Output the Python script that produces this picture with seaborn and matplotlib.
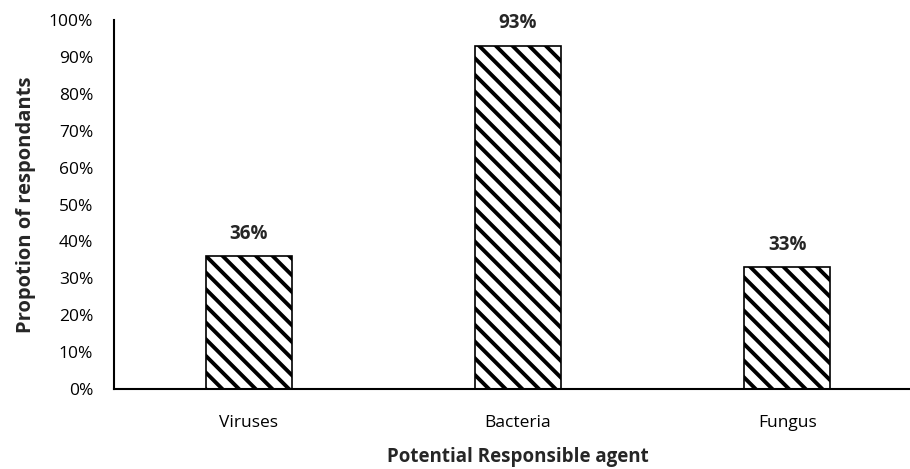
import matplotlib
matplotlib.use("Agg")
import matplotlib.pyplot as plt
import seaborn as sns
from matplotlib.ticker import PercentFormatter

# data
agents = ["Viruses", "Bacteria", "Fungus"]
proportions = [36, 93, 33]
bar_labels = ["36%", "93%", "33%"]

sns.set_theme(style="white")
plt.rcParams["font.family"] = ["Open Sans", "DejaVu Sans"]
plt.rcParams["hatch.linewidth"] = 2.8
plt.rcParams["hatch.color"] = "black"

fig = plt.figure(figsize=(9.1, 4.69), dpi=100)
ax = fig.add_axes([114 / 910, 1 - 389 / 469, 808 / 910, 369 / 469])

sns.barplot(x=agents, y=proportions, color="white", edgecolor="black",
            linewidth=1.2, width=0.32, saturation=1, ax=ax)
for p in ax.patches:
    p.set_hatch("\\\\")

for p, lab in zip(ax.patches, bar_labels):
    ax.text(p.get_x() + p.get_width() / 2, p.get_height() + 3.4, lab,
            ha="center", va="bottom", fontsize=13.5, fontweight="bold")

ax.set_ylim(0, 100)
ax.set_xlim(-0.5, 2.5)
ax.set_yticks(range(0, 101, 10))
ax.yaxis.set_major_formatter(PercentFormatter(decimals=0))
ax.tick_params(axis="both", length=0, labelsize=12.5, colors="black")
ax.tick_params(axis="y", pad=15)
ax.tick_params(axis="x", pad=19)

ax.set_xlabel("Potential Responsible agent", fontsize=13.5, fontweight="bold", labelpad=11)
ax.set_ylabel("Propotion of respondants", fontsize=14.5, fontweight="bold", labelpad=9)

sns.despine(ax=ax, top=True, right=True)
for s in ["left", "bottom"]:
    ax.spines[s].set_color("black")
    ax.spines[s].set_linewidth(1.5)

fig.savefig("out.png", dpi=100)
